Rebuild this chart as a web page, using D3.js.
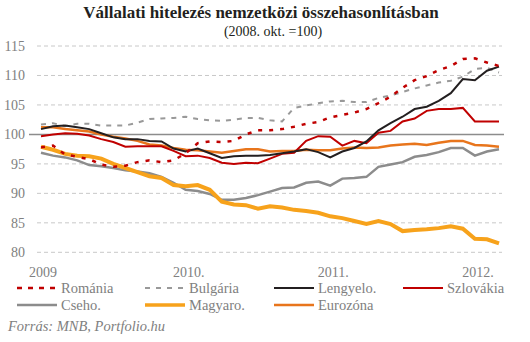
<!DOCTYPE html>
<html>
<head>
<meta charset="utf-8">
<script src="https://cdn.jsdelivr.net/npm/d3@7"></script>
<style>
  body { margin: 0; background: #fff; }
  svg text { font-family: "Liberation Serif", "DejaVu Serif", serif; }
</style>
</head>
<body>
<div class="svg-container"></div>
<script>
// havi adatok, 2009 jan - 2012 márc (2008. okt. = 100)
var xLabels = ["2009", "2010.", "2011.", "2012."];
var xLabelIdx = [0, 12, 24, 36];
var yTicks = [80, 85, 90, 95, 100, 105, 110, 115];

var romania = [97.8, 98.1, 96.6, 96.2, 95.8, 94.9, 94.5, 94.7, 95.3, 95.6, 95.3, 95.6, 96.8,
  98.5, 98.8, 98.7, 98.9, 100.0, 100.7, 100.7, 100.9, 101.3, 101.8, 102.1, 102.9,
  103.3, 103.7, 104.3, 105.3, 106.4, 107.9, 109.2, 109.9, 110.9, 111.6, 112.8, 112.9, 112.2, 111.6];
var bulgaria = [101.7, 101.9, 101.4, 101.8, 101.8, 101.5, 101.5, 101.5, 102.0, 102.6, 102.7, 102.8, 103.0,
  102.6, 102.4, 102.3, 102.5, 102.8, 102.8, 102.4, 102.2, 104.5, 104.9, 105.3, 105.6,
  105.7, 105.5, 105.5, 106.2, 106.6, 107.2, 107.8, 108.3, 108.8, 109.1, 109.8, 111.1, 111.3, 110.5];
var lengyel = [100.9, 101.4, 101.5, 101.2, 100.9, 100.2, 99.5, 99.2, 99.2, 98.9, 98.8, 97.6, 97.1,
  97.6, 96.8, 96.0, 96.3, 96.4, 96.4, 96.5, 96.8, 97.1, 97.5, 97.0, 96.1,
  97.1, 97.7, 98.8, 100.7, 101.9, 103.0, 104.3, 104.7, 105.7, 107.0, 109.4, 109.2, 110.8, 111.5];
var szlovak = [99.7, 100.0, 100.2, 100.1, 99.8, 99.2, 98.7, 97.9, 98.0, 98.0, 98.0, 97.2, 96.3,
  96.4, 96.0, 95.2, 95.0, 95.2, 95.1, 95.9, 96.7, 96.9, 98.9, 99.7, 99.6,
  98.1, 98.9, 98.5, 100.3, 100.6, 102.2, 102.7, 104.0, 104.3, 104.3, 104.5, 102.2, 102.2, 102.2];
var cseh = [96.9, 96.4, 96.1, 95.6, 94.8, 94.6, 94.3, 93.9, 93.7, 93.4, 92.8, 91.8, 90.6,
  90.4, 89.9, 88.9, 88.9, 89.2, 89.7, 90.3, 90.9, 91.0, 91.8, 92.0, 91.3,
  92.5, 92.6, 92.8, 94.5, 94.9, 95.3, 96.2, 96.5, 97.0, 97.7, 97.7, 96.4, 97.1, 97.5];
var magyar = [97.9, 97.4, 96.7, 96.4, 96.3, 95.9, 95.0, 94.3, 93.6, 92.9, 92.6, 91.4, 91.2,
  91.4, 90.6, 88.6, 88.1, 88.0, 87.4, 87.8, 87.6, 87.2, 87.0, 86.7, 86.1,
  85.8, 85.3, 84.8, 85.3, 84.8, 83.6, 83.8, 83.9, 84.1, 84.4, 84.0, 82.3, 82.2, 81.5];
var euro = [101.2, 101.2, 100.9, 100.7, 100.5, 100.0, 99.6, 99.3, 98.9, 98.3, 98.1, 97.7, 97.4,
  97.3, 97.1, 96.9, 97.2, 97.5, 97.5, 97.1, 97.2, 97.2, 97.4, 97.3, 97.3,
  97.6, 97.8, 97.7, 97.8, 98.1, 98.3, 98.4, 98.2, 98.6, 98.9, 98.9, 98.2, 98.1, 97.9];

var seriesNames = ["Románia", "Bulgária", "Lengyelo.", "Szlovákia", "Cseho.", "Magyaro.", "Eurozóna"];
var seriesValues = [romania, bulgaria, lengyel, szlovak, cseh, magyar, euro];

// stílusok
var styles = [
  {color: "#c00000", width: 2.5, dash: "4,7"},
  {color: "#999999", width: 2, dash: "5,6"},
  {color: "#231f20", width: 2, dash: null},
  {color: "#c00000", width: 2, dash: null},
  {color: "#8c8c8c", width: 2.5, dash: null},
  {color: "#f7a21b", width: 4, dash: null},
  {color: "#e8751c", width: 2.5, dash: null}
];
// kirajzolási sorrend (alul -> felül)
var drawOrder = [6, 4, 5, 1, 3, 2, 0];

var width = 530, height = 342;
var svg = d3.select(".svg-container").append("svg")
  .attr("width", width).attr("height", height);

var x = d3.scaleLinear().domain([0, romania.length - 1]).range([41, 499]);
var y = d3.scaleLinear().domain([80, 115]).range([252.3, 46]);

svg.append("text")
  .attr("x", 261).attr("y", 18)
  .attr("text-anchor", "middle")
  .attr("font-size", 17).attr("font-weight", "bold").attr("fill", "#231f20")
  .text("Vállalati hitelezés nemzetközi összehasonlításban");
svg.append("text")
  .attr("x", 273).attr("y", 36)
  .attr("text-anchor", "middle")
  .attr("font-size", 14).attr("fill", "#231f20")
  .text("(2008. okt. =100)");

// rács
svg.append("g").selectAll("line")
  .data(yTicks.filter(function(d) { return d !== 100; }))
  .enter().append("line")
  .attr("x1", 37).attr("x2", 502)
  .attr("y1", function(d) { return y(d); }).attr("y2", function(d) { return y(d); })
  .attr("stroke", "#c8c8c8").attr("stroke-width", 1).attr("stroke-dasharray", "4,3");
svg.append("line")
  .attr("x1", 29).attr("x2", 504)
  .attr("y1", y(100)).attr("y2", y(100))
  .attr("stroke", "#8c8c8c").attr("stroke-width", 1.5);

svg.append("g").selectAll("text")
  .data(yTicks).enter().append("text")
  .attr("x", 25).attr("y", function(d) { return y(d) + 5; })
  .attr("text-anchor", "end").attr("font-size", 14).attr("fill", "#808080")
  .text(function(d) { return d; });

svg.append("g").selectAll("text")
  .data(xLabels).enter().append("text")
  .attr("x", function(d, i) { return x(xLabelIdx[i]) + (i === 0 ? 2 : 3); })
  .attr("y", 277)
  .attr("text-anchor", "middle").attr("font-size", 14).attr("fill", "#808080")
  .text(function(d) { return d; });

var line = d3.line()
  .x(function(d, i) { return x(i); })
  .y(function(d) { return y(d); });

drawOrder.forEach(function(k) {
  var s = styles[k];
  svg.append("path")
    .datum(seriesValues[k])
    .attr("fill", "none")
    .attr("stroke", s.color)
    .attr("stroke-width", s.width)
    .attr("stroke-dasharray", s.dash)
    .attr("d", line);
});

// jelmagyarázat
var legendX = [17, 145, 274, 403];
var legend = svg.append("g").selectAll("g")
  .data(seriesNames).enter().append("g")
  .attr("transform", function(d, i) {
    return "translate(" + legendX[i % 4] + "," + (i < 4 ? 288 : 305) + ")";
  });
legend.append("line")
  .attr("x1", 0).attr("x2", 40).attr("y1", 0).attr("y2", 0)
  .attr("stroke", function(d, i) { return styles[i].color; })
  .attr("stroke-width", function(d, i) { return Math.min(styles[i].width, 3.5); })
  .attr("stroke-dasharray", function(d, i) { return styles[i].dash ? "5,6" : null; });
legend.append("text")
  .attr("x", 44).attr("y", 5)
  .attr("font-size", 14.5).attr("fill", "#808080")
  .text(function(d) { return d; });

svg.append("text")
  .attr("x", 8).attr("y", 331)
  .attr("font-size", 14.5).attr("font-style", "italic").attr("fill", "#808080")
  .text("Forrás: MNB, Portfolio.hu");
</script>
</body>
</html>
